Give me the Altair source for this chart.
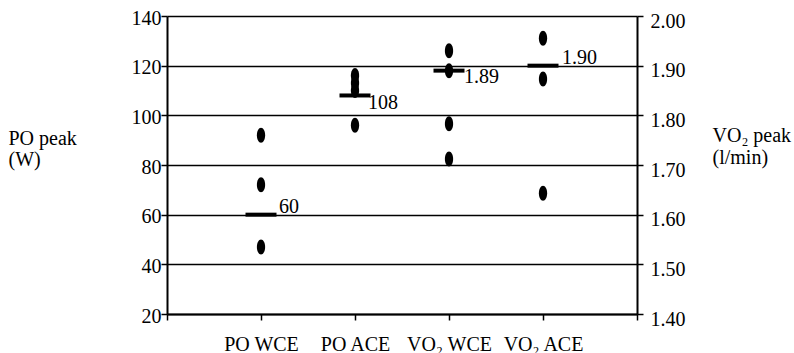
import json
import altair as alt
import pandas as pd

# ---- data ----
categories = ["PO WCE", "PO ACE", "VO₂ WCE", "VO₂ ACE"]

po_cat = ["PO WCE", "PO WCE", "PO WCE", "PO ACE", "PO ACE", "PO ACE", "PO ACE"]
po_val = [92, 72, 47, 116, 113, 110, 96]

vo2_cat = ["VO₂ WCE", "VO₂ WCE", "VO₂ WCE", "VO₂ WCE", "VO₂ ACE", "VO₂ ACE", "VO₂ ACE"]
vo2_val = [1.93, 1.89, 1.783, 1.712, 1.955, 1.873, 1.643]

po_mean_cat = ["PO WCE", "PO ACE"]
po_mean_val = [60, 108]
po_mean_lbl = ["60", "108"]

vo2_mean_cat = ["VO₂ WCE", "VO₂ ACE"]
vo2_mean_val = [1.89, 1.90]
vo2_mean_lbl = ["1.89", "1.90"]

labels_above = ["PO WCE", "VO₂ ACE"]

po_ticks = [20, 40, 60, 80, 100, 120, 140]
vo2_ticks = [1.4, 1.5, 1.6, 1.7, 1.8, 1.9, 2.0]

FONT = "Liberation Serif"
pos_of = {c: i + 1 for i, c in enumerate(categories)}

po_df = pd.DataFrame({"cat": po_cat, "val": po_val})
po_df["pos"] = po_df["cat"].map(pos_of)
vo2_df = pd.DataFrame({"cat": vo2_cat, "vval": vo2_val})
vo2_df["pos"] = vo2_df["cat"].map(pos_of)
po_m = pd.DataFrame({"cat": po_mean_cat, "val": po_mean_val, "lbl": po_mean_lbl})
po_m["pos"] = po_m["cat"].map(pos_of)
vo2_m = pd.DataFrame({"cat": vo2_mean_cat, "vval": vo2_mean_val, "lbl": vo2_mean_lbl})
vo2_m["pos"] = vo2_m["cat"].map(pos_of)

label_arr = json.dumps([""] + categories + [""], ensure_ascii=False)

x_enc = alt.X(
    "pos:Q",
    scale=alt.Scale(domain=[0, len(categories) + 1], nice=False, zero=False),
    axis=alt.Axis(
        values=list(range(0, len(categories) + 2)),
        labelExpr=f"{label_arr}[datum.value]",
        title=None, grid=False, tickSize=6, labelPadding=14,
        domainWidth=2, tickWidth=1.5,
        labelFont=FONT, labelFontSize=20,
    ),
)

y_left = alt.Y(
    "val:Q",
    scale=alt.Scale(domain=[20, 140], nice=False, zero=False),
    axis=alt.Axis(
        values=po_ticks, orient="left", grid=True, gridColor="black", gridWidth=1.5,
        tickSize=6, labelPadding=0, labelOffset=2, domainWidth=2, tickWidth=1.5,
        labelFont=FONT, labelFontSize=20,
        title=["PO peak", "(W)"], titleAngle=0, titleAlign="left",
        titleBaseline="alphabetic", titleX=-159, titleY=128,
        titleFont=FONT, titleFontSize=20, titleFontWeight="normal",
        titleLineHeight=21, titleColor="black",
    ),
)

y_right = alt.Y(
    "vval:Q",
    scale=alt.Scale(domain=[1.4, 2.0], nice=False, zero=False),
    axis=alt.Axis(
        values=vo2_ticks, orient="right", grid=False, format=".2f",
        tickSize=6, labelPadding=7, labelOffset=5, domainWidth=2, tickWidth=1.5,
        labelFont=FONT, labelFontSize=20,
        title=["VO₂ peak", "(l/min)"], titleAngle=0, titleAlign="left",
        titleBaseline="alphabetic", titleX=75, titleY=125,
        titleFont=FONT, titleFontSize=20, titleFontWeight="normal",
        titleLineHeight=22, titleColor="black",
    ),
)

ellipse = "M0,-1A0.55,1,0,1,1,0,1A0.55,1,0,1,1,0,-1Z"

po_pts = alt.Chart(po_df).mark_point(shape=ellipse, filled=True, color="black",
                                     size=225, opacity=1).encode(x=x_enc, y=y_left)
po_mean_tick = alt.Chart(po_m).mark_tick(orient="horizontal", color="black", opacity=1,
                                         size=31, thickness=4).encode(x=x_enc, y=y_left)
po_lbl_above = alt.Chart(po_m).transform_filter(
    alt.FieldOneOfPredicate(field="cat", oneOf=labels_above)
).mark_text(align="left", baseline="alphabetic", dx=18, dy=-2, font=FONT,
            fontSize=20, color="black").encode(x=x_enc, y=y_left, text="lbl:N")
po_lbl_below = alt.Chart(po_m).transform_filter(
    {"not": alt.FieldOneOfPredicate(field="cat", oneOf=labels_above).to_dict()}
).mark_text(align="left", baseline="alphabetic", dx=13, dy=14, font=FONT,
            fontSize=20, color="black").encode(x=x_enc, y=y_left, text="lbl:N")

vo2_pts = alt.Chart(vo2_df).mark_point(shape=ellipse, filled=True, color="black",
                                       size=225, opacity=1).encode(x=x_enc, y=y_right)
vo2_mean_tick = alt.Chart(vo2_m).mark_tick(orient="horizontal", color="black", opacity=1,
                                           size=31, thickness=4).encode(x=x_enc, y=y_right)
vo2_lbl_above = alt.Chart(vo2_m).transform_filter(
    alt.FieldOneOfPredicate(field="cat", oneOf=labels_above)
).mark_text(align="left", baseline="alphabetic", dx=19, dy=-2, font=FONT,
            fontSize=20, color="black").encode(x=x_enc, y=y_right, text="lbl:N")
vo2_lbl_below = alt.Chart(vo2_m).transform_filter(
    {"not": alt.FieldOneOfPredicate(field="cat", oneOf=labels_above).to_dict()}
).mark_text(align="left", baseline="alphabetic", dx=15, dy=12, font=FONT,
            fontSize=20, color="black").encode(x=x_enc, y=y_right, text="lbl:N")

left = alt.layer(po_pts, po_mean_tick, po_lbl_above, po_lbl_below)
right = alt.layer(vo2_pts, vo2_mean_tick, vo2_lbl_above, vo2_lbl_below)

chart = alt.layer(left, right).resolve_scale(y="independent").properties(
    width=470, height=298,
    autosize=alt.AutoSizeParams(type="none"),
    padding={"left": 167, "top": 16, "right": 157, "bottom": 39},
    background="white",
).configure_view(stroke=None).configure_axis(
    domainColor="black", tickColor="black", labelColor="black",
    labelFont=FONT, labelFontSize=20,
).configure_text(font=FONT)

chart.save("out.html", embed_options={"renderer": "svg", "actions": False})
